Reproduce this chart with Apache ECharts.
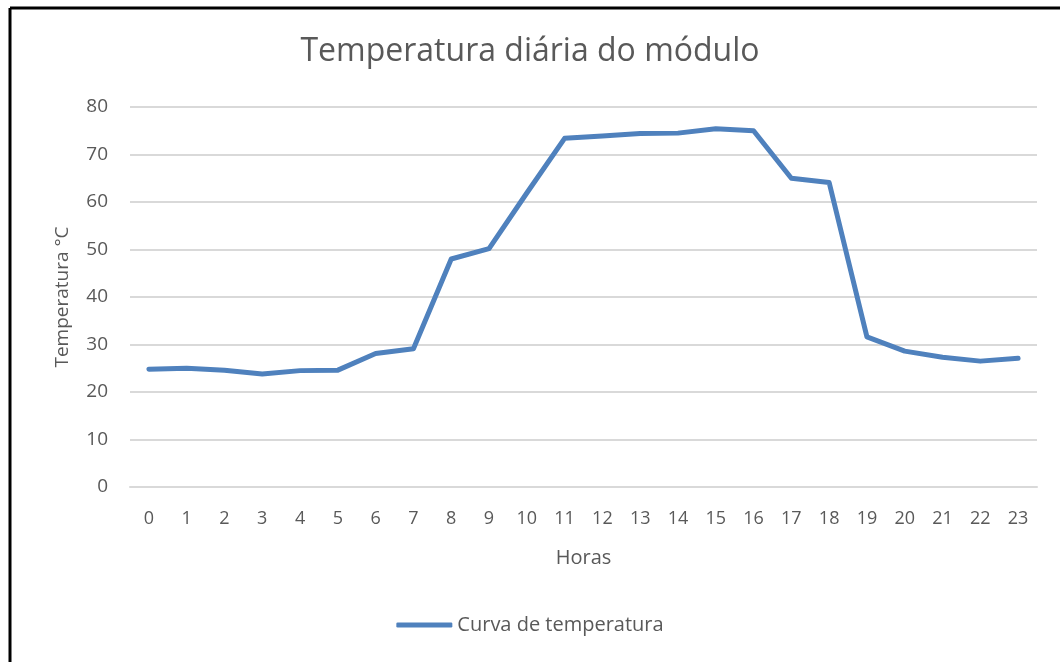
<!DOCTYPE html>
<html>
<head>
<meta charset="utf-8">
<script src="https://cdn.jsdelivr.net/npm/echarts@6/dist/echarts.min.js"></script>
<style>
  html, body { margin: 0; padding: 0; background: #fff; }
  #chart { width: 1060px; height: 662px; }
</style>
</head>
<body>
<div id="chart"></div>
<script>
// horas do dia
const hours = ['0', '1', '2', '3', '4', '5', '6', '7', '8', '9', '10', '11',
  '12', '13', '14', '15', '16', '17', '18', '19', '20', '21', '22', '23']
// temperatura do módulo (°C)
const temperature = [24.8, 25.0, 24.6, 23.8, 24.5, 24.6, 28.1, 29.1, 48.0, 50.2, 61.9, 73.4,
  73.9, 74.4, 74.5, 75.4, 75.0, 65.0, 64.1, 31.6, 28.6, 27.3, 26.5, 27.1]

const fontFamily = '"Open Sans", "Noto Sans", sans-serif'
const textColor = '#595959'

const chart = echarts.init(document.getElementById('chart'))
chart.setOption({
  animation: false,
  textStyle: { fontFamily: fontFamily, color: textColor },
  title: {
    text: 'Temperatura diária do módulo',
    left: 'center',
    top: 31,
    textStyle: { fontFamily: fontFamily, fontSize: 32, fontWeight: 'normal', color: textColor }
  },
  graphic: [
    { type: 'line', shape: { x1: 10, y1: 8, x2: 1060, y2: 8 }, style: { stroke: '#000', lineWidth: 3 } },
    { type: 'line', shape: { x1: 10, y1: 8, x2: 10, y2: 662 }, style: { stroke: '#000', lineWidth: 3 } }
  ],
  grid: { left: 130, right: 23, top: 107, bottom: 175 },
  legend: {
    bottom: 22,
    left: 'center',
    itemWidth: 56,
    itemHeight: 5,
    itemGap: 3,
    icon: 'roundRect',
    textStyle: { fontFamily: fontFamily, fontSize: 20, color: textColor },
    data: ['Curva de temperatura']
  },
  xAxis: {
    type: 'category',
    data: hours,
    name: 'Horas',
    nameLocation: 'middle',
    nameGap: 61,
    nameTextStyle: { fontFamily: fontFamily, fontSize: 20, color: textColor },
    axisLine: { lineStyle: { color: '#d9d9d9', width: 2 } },
    axisTick: { show: false },
    axisLabel: { fontSize: 18, color: textColor, margin: 23 }
  },
  yAxis: {
    type: 'value',
    min: 0,
    max: 80,
    interval: 10,
    name: 'Temperatura °C',
    nameLocation: 'middle',
    nameGap: 58,
    nameTextStyle: { fontFamily: fontFamily, fontSize: 19, color: textColor },
    axisLine: { show: false },
    axisTick: { show: false },
    axisLabel: { fontSize: 19, color: textColor, margin: 22 },
    splitLine: { lineStyle: { color: '#d9d9d9', width: 2 } }
  },
  series: [
    {
      name: 'Curva de temperatura',
      type: 'line',
      data: temperature,
      symbol: 'none',
      lineStyle: { color: '#4f81bd', width: 5, join: 'round', cap: 'round' },
      itemStyle: { color: '#4f81bd' }
    }
  ]
})
</script>
</body>
</html>
